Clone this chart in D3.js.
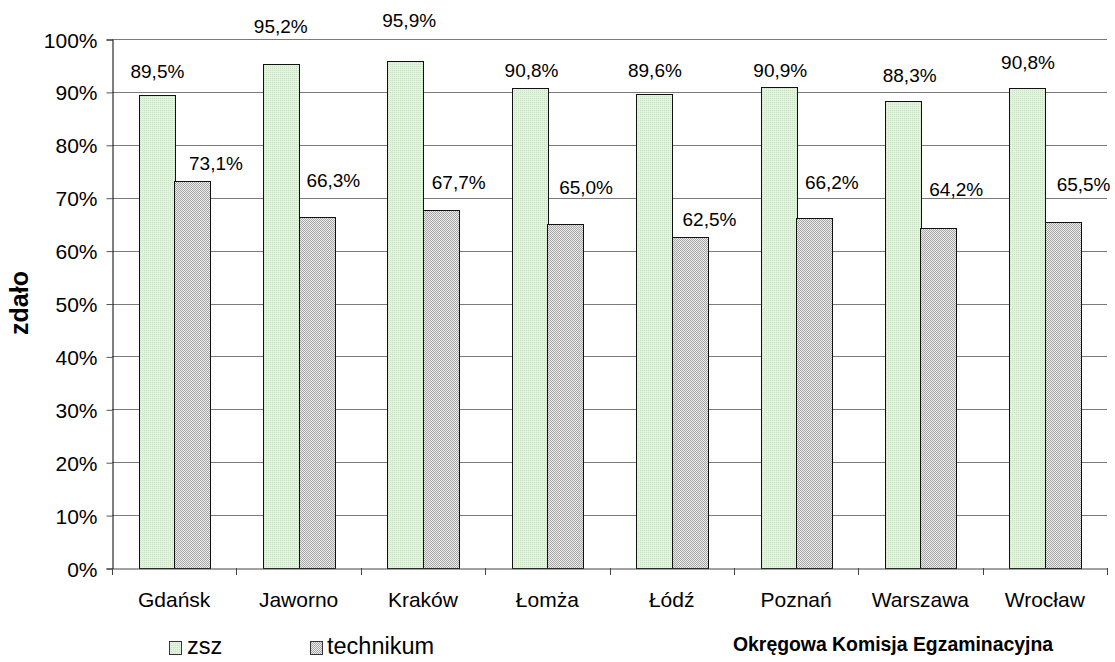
<!DOCTYPE html>
<html><head><meta charset="utf-8">
<script src="https://cdn.jsdelivr.net/npm/d3@7/dist/d3.min.js"></script>
<style>
html,body{margin:0;padding:0;background:#fff;}
svg{display:block;font-family:"Liberation Sans",Arial,sans-serif;}
</style></head>
<body>
<svg id="chart" width="1115" height="662"></svg>
<script>
const categories = ["Gdańsk","Jaworno","Kraków","Łomża","Łódź","Poznań","Warszawa","Wrocław"];
const zsz = [89.5,95.2,95.9,90.8,89.6,90.9,88.3,90.8];
const technikum = [73.1,66.3,67.7,65.0,62.5,66.2,64.2,65.5];
const seriesNames = ["zsz","technikum"];
const yTicks = [0,10,20,30,40,50,60,70,80,90,100];
const yTitle = "zdało";
const footer = "Okręgowa Komisja Egzaminacyjna";

// layout tweaks for data-label placement (pixels, relative to bar top / bar centre)
const zszLabelDx = [1,0,4,2,1,2,7,1];
const zszLabelDy = [-17,-31,-34,-11,-17,-10,-19,-19];
const techLabelDx = [24,17,18,21,20,18,18,21];
const techLabelDy = [-11,-30,-21,-30,-11,-29,-32,-31];

const svg = d3.select("#chart");
const L = 112, R = 1107, T = 39, B = 568;

const defs = svg.append("defs");
const pz = defs.append("pattern").attr("id","pz").attr("width",2).attr("height",2).attr("patternUnits","userSpaceOnUse");
pz.append("rect").attr("width",2).attr("height",2).attr("fill","#e2f3de");
pz.append("rect").attr("width",1).attr("height",1).attr("fill","#c8e2c3");
const pt = defs.append("pattern").attr("id","pt").attr("width",2).attr("height",2).attr("patternUnits","userSpaceOnUse");
pt.append("rect").attr("width",2).attr("height",2).attr("fill","#ececec");
pt.append("rect").attr("width",1).attr("height",1).attr("fill","#a6a6a6");
pt.append("rect").attr("x",1).attr("y",1).attr("width",1).attr("height",1).attr("fill","#a6a6a6");

const y = d3.scaleLinear().domain([0,100]).range([B,T]);
const x = d3.scaleBand().domain(categories).range([L,R]).paddingInner(0).paddingOuter(0);
const bw = x.bandwidth()/3.5;
const off = x.bandwidth()*0.75/3.5;

// gridlines
svg.append("g").selectAll("line").data(yTicks.filter(d=>d>0)).join("line")
  .attr("x1",L).attr("x2",R)
  .attr("y1",d=>Math.round(y(d))+0.5).attr("y2",d=>Math.round(y(d))+0.5)
  .attr("stroke","#7a7a7a").attr("stroke-width",1);

// y axis
const yAxis = d3.axisLeft(y).tickValues(yTicks).tickFormat(d=>d+"%").tickSize(6).tickPadding(9);
const gy = svg.append("g").attr("transform",`translate(${L+0.5},0.5)`).call(yAxis);
gy.select(".domain").attr("stroke","#000");
gy.selectAll(".tick line").attr("stroke","#555");
gy.selectAll(".tick text").attr("font-size",21).attr("fill","#000")
  .attr("font-family","'Liberation Sans',Arial,sans-serif").attr("dy","0.36em");

// bars
const data = categories.map((c,i)=>({c,i,zsz:zsz[i],tech:technikum[i]}));
const g = svg.append("g");
g.selectAll("rect.z").data(data).join("rect").attr("class","z")
  .attr("x",d=>Math.round(x(d.c)+off)+0.5).attr("width",Math.round(bw))
  .attr("y",d=>Math.round(y(d.zsz))+0.5).attr("height",d=>Math.round(B)-Math.round(y(d.zsz)))
  .attr("fill","url(#pz)").attr("stroke","#111").attr("stroke-width",1);
g.selectAll("rect.t").data(data).join("rect").attr("class","t")
  .attr("x",d=>Math.round(x(d.c)+off+bw)+0.5).attr("width",Math.round(bw))
  .attr("y",d=>Math.round(y(d.tech))+0.5).attr("height",d=>Math.round(B)-Math.round(y(d.tech)))
  .attr("fill","url(#pt)").attr("stroke","#111").attr("stroke-width",1);

// x axis
const xAxis = d3.axisBottom(x).tickSize(0).tickPadding(30);
const gx = svg.append("g").attr("transform",`translate(0,${B+0.5})`).call(xAxis);
gx.select(".domain").attr("stroke","#444");
gx.selectAll(".tick text").attr("font-size",21).attr("fill","#000")
  .attr("font-family","'Liberation Sans',Arial,sans-serif").attr("dy","0.71em").attr("y",24);
const bounds = categories.map(c=>x(c)).concat([R]);
svg.append("g").selectAll("line").data(bounds).join("line")
  .attr("x1",d=>Math.round(d)+0.5).attr("x2",d=>Math.round(d)+0.5)
  .attr("y1",B).attr("y2",B+7).attr("stroke","#444");

// data labels
const fmt = v => v.toFixed(1).replace(".",",")+"%";
svg.append("g").selectAll("text").data(data).join("text")
  .attr("x",d=>x(d.c)+off+bw/2+zszLabelDx[d.i])
  .attr("y",d=>y(d.zsz)+zszLabelDy[d.i])
  .attr("text-anchor","middle").attr("font-size",19).attr("fill","#000")
  .text(d=>fmt(d.zsz));
svg.append("g").selectAll("text").data(data).join("text")
  .attr("x",d=>x(d.c)+off+bw*1.5+techLabelDx[d.i])
  .attr("y",d=>y(d.tech)+techLabelDy[d.i])
  .attr("text-anchor","middle").attr("font-size",19).attr("fill","#000")
  .text(d=>fmt(d.tech));

// y title
svg.append("text").attr("transform","translate(28,303) rotate(-90)")
  .attr("text-anchor","middle").attr("font-size",25).attr("font-weight","bold")
  .text(yTitle);

// legend
const legX = [169,310];
const leg = svg.append("g").selectAll("g").data(seriesNames).join("g")
  .attr("transform",(d,i)=>`translate(${legX[i]},641)`);
leg.append("rect").attr("x",0.5).attr("y",0.5).attr("width",12).attr("height",13)
  .attr("fill",(d,i)=>i===0?"url(#pz)":"url(#pt)").attr("stroke","#333");
leg.append("text").attr("x",(d,i)=>i===0?18:17).attr("y",13).attr("font-size",23.5).text(d=>d);

// footer
svg.append("text").attr("x",893).attr("y",651).attr("text-anchor","middle")
  .attr("font-size",19.4).attr("font-weight","bold").text(footer);
</script>
</body></html>
